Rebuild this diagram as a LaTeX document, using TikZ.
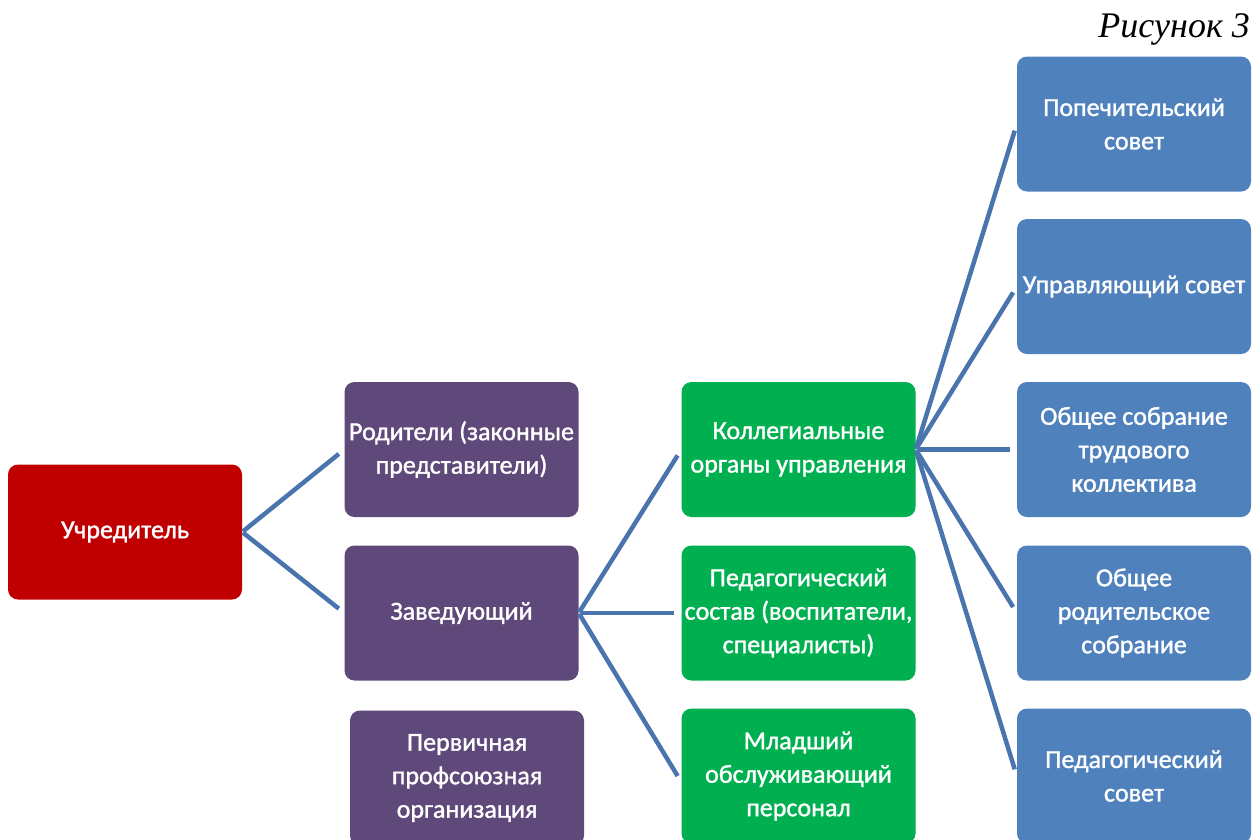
\documentclass[tikz,border=0pt]{standalone}
\usepackage{fontspec}
\setmainfont{Carlito}
\newfontfamily\boxfont{Carlito}[FakeBold=1.3]
\newfontfamily\capfont{Liberation Serif}
\definecolor{cred}{HTML}{C00000}
\definecolor{cpurple}{HTML}{5F497A}
\definecolor{cgreen}{HTML}{00B050}
\definecolor{cblue}{HTML}{4F81BD}
\definecolor{cline}{HTML}{4A74AE}
\begin{document}
\begin{tikzpicture}[x=1pt,y=-1pt,
  box/.style={rectangle, rounded corners=10pt, minimum width=234pt, minimum height=135pt,
    text=white, align=center, inner sep=2pt, font=\boxfont\fontsize{26}{33.5}\selectfont},
  redbox/.style={box, fill=cred},
  purplebox/.style={box, fill=cpurple},
  greenbox/.style={box, fill=cgreen},
  bluebox/.style={box, fill=cblue},
  conn/.style={draw=cline, line width=4.5pt, shorten >=7pt, shorten <=1pt}]
\useasboundingbox (0,0) rectangle (1252,839);
\clip (0,0) rectangle (1252,839);
\node[redbox] (uch) at (125,532) {Учредитель};
\node[purplebox] (rod) at (461.5,449.5) {Родители (законные\\представители)};
\node[purplebox] (zav) at (461.5,613) {Заведующий};
\node[purplebox] (perv) at (467,778) {Первичная\\профсоюзная\\организация};
\node[greenbox] (kol) at (798.5,449.5) {Коллегиальные\\органы управления};
\node[greenbox] (ped) at (798.5,613) {Педагогический\\состав (воспитатели,\\специалисты)};
\node[greenbox] (mlad) at (798.5,776) {Младший\\обслуживающий\\персонал};
\node[bluebox] (pop) at (1134,124) {Попечительский\\совет};
\node[bluebox] (upr) at (1134,286.5) {Управляющий совет};
\node[bluebox] (obs) at (1134,449.5) {Общее собрание\\трудового\\коллектива};
\node[bluebox] (orod) at (1134,613) {Общее\\родительское\\собрание};
\node[bluebox] (psov) at (1134,776) {Педагогический\\совет};
\node[anchor=north east, inner sep=0pt, font=\capfont\itshape\fontsize{36}{42}\selectfont] (cap) at (1250,13) {Рисунок 3};
\draw[conn] (uch.east) -- (rod.west);
\draw[conn] (uch.east) -- (zav.west);
\draw[conn] (zav.east) -- (kol.west);
\draw[conn] (zav.east) -- (ped.west);
\draw[conn] (zav.east) -- ([yshift=-6pt]mlad.west);
\draw[conn] (kol.east) -- (pop.west);
\draw[conn] (kol.east) -- (upr.west);
\draw[conn] (kol.east) -- (obs.west);
\draw[conn] (kol.east) -- (orod.west);
\draw[conn] (kol.east) -- (psov.west);
\end{tikzpicture}
\end{document}
